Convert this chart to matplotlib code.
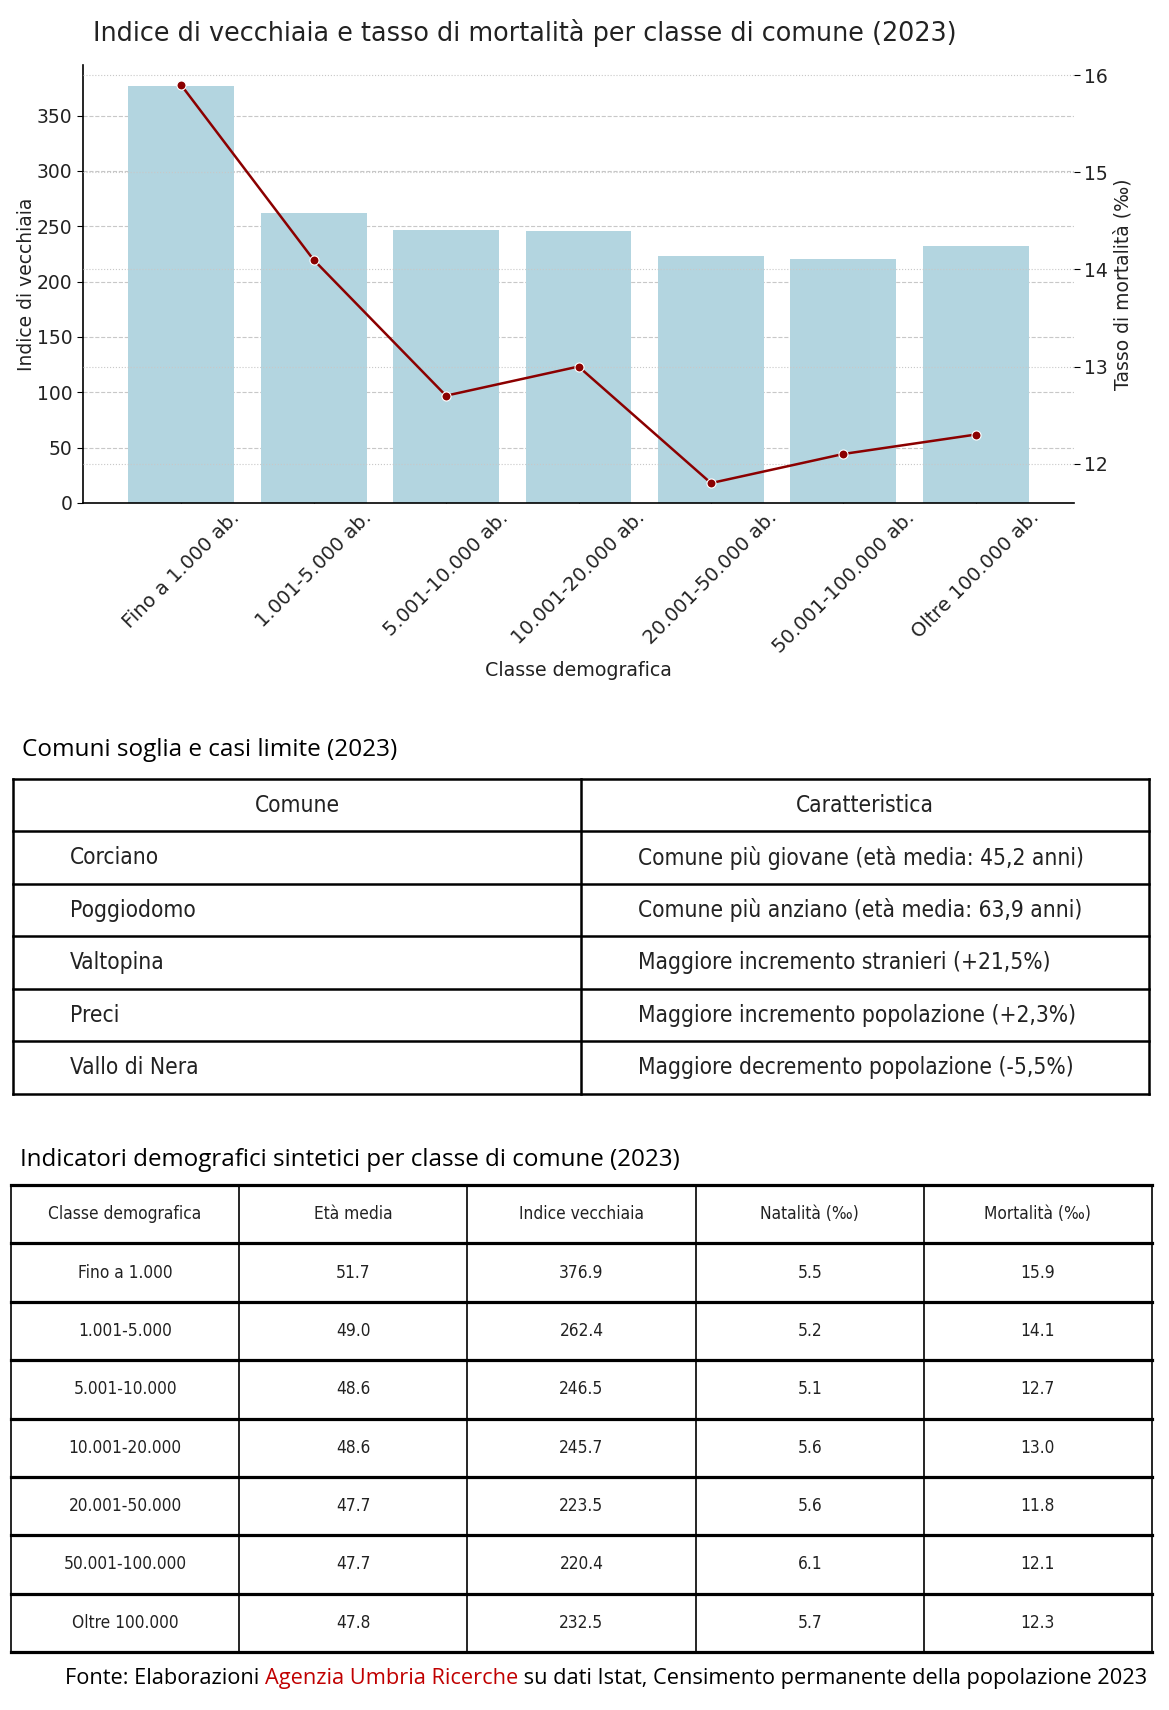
import matplotlib
matplotlib.use("Agg")
import matplotlib.pyplot as plt
from matplotlib import font_manager
import numpy as np

# chart data
classi = ["Fino a 1.000 ab.", "1.001-5.000 ab.", "5.001-10.000 ab.", "10.001-20.000 ab.",
          "20.001-50.000 ab.", "50.001-100.000 ab.", "Oltre 100.000 ab."]
indice_vecchiaia = [376.9, 262.4, 246.5, 245.7, 223.5, 220.4, 232.5]
mortalita = [15.9, 14.1, 12.7, 13.0, 11.8, 12.1, 12.3]

# table 1
comuni = ["Corciano", "Poggiodomo", "Valtopina", "Preci", "Vallo di Nera"]
caratteristiche = ["Comune più giovane (età media: 45,2 anni)",
                   "Comune più anziano (età media: 63,9 anni)",
                   "Maggiore incremento stranieri (+21,5%)",
                   "Maggiore incremento popolazione (+2,3%)",
                   "Maggiore decremento popolazione (-5,5%)"]

# table 2
classi_brevi = ["Fino a 1.000", "1.001-5.000", "5.001-10.000", "10.001-20.000",
                "20.001-50.000", "50.001-100.000", "Oltre 100.000"]
eta_media = ["51.7", "49.0", "48.6", "48.6", "47.7", "47.7", "47.8"]
indice_txt = ["376.9", "262.4", "246.5", "245.7", "223.5", "220.4", "232.5"]
natalita = ["5.5", "5.2", "5.1", "5.6", "5.6", "6.1", "5.7"]
mortalita_txt = ["15.9", "14.1", "12.7", "13.0", "11.8", "12.1", "12.3"]
intestazioni = ["Classe demografica", "Età media", "Indice vecchiaia", "Natalità (‰)", "Mortalità (‰)"]

fonte = [("Fonte: Elaborazioni ", "black"), ("Agenzia Umbria Ricerche", "#c00000"),
         (" su dati Istat, Censimento permanente della popolazione 2023", "black")]

W, H = 1169, 1710
fig = plt.figure(figsize=(W / 100, H / 100), dpi=100)

# pick a narrow face for the table cells, if one is installed
fonts = font_manager.fontManager.ttflist
names = {f.name for f in fonts}
if any(f.name == "DejaVu Sans" and f.stretch == "condensed" for f in fonts):
    NARROW = dict(family="DejaVu Sans", fontstretch="condensed")
    scale = 1.0
elif "Roboto Condensed" in names:
    NARROW = dict(family="Roboto Condensed")
    scale = 1.0
elif "Liberation Sans Narrow" in names:
    NARROW = dict(family="Liberation Sans Narrow")
    scale = 1.0
else:
    NARROW = dict(family="DejaVu Sans")
    scale = 0.86
HEAD = ["Open Sans", "DejaVu Sans"]
TXT = "#222222"


def box(left, top, right, bottom):
    return [left / W, 1 - bottom / H, (right - left) / W, (bottom - top) / H]


# ---- chart ----
ax = fig.add_axes(box(83, 65, 1074, 503))
x = np.arange(len(classi))
ax.bar(x, indice_vecchiaia, width=0.8, color="#b3d5e0", zorder=2)
ax.set_xticks(x)
ax.set_xticklabels(classi, rotation=45, ha="center", fontsize=14, color=TXT)
ax.tick_params(axis="x", direction="in", length=5)
ax.tick_params(axis="y", labelsize=13.5, labelcolor=TXT, length=4)
ax.set_yticks(range(0, 351, 50))
ax.grid(axis="y", linestyle="--", color="#c8c8c8", linewidth=0.8, zorder=0)
ax.set_axisbelow(True)
ax.set_ylabel("Indice di vecchiaia", fontsize=13.5, color=TXT, labelpad=1)
ax.set_xlabel("Classe demografica", fontsize=13.7, color=TXT, labelpad=3)
for s in ["top", "right"]:
    ax.spines[s].set_visible(False)
ax.spines["left"].set_linewidth(1.2)
ax.spines["bottom"].set_linewidth(1.2)

ax2 = ax.twinx()
ax2.plot(x, mortalita, color="#8b0000", linewidth=1.8, marker="o", markersize=6.5,
         markeredgecolor="white", markeredgewidth=0.8, zorder=3)
ax2.set_yticks([12, 13, 14, 15, 16])
ax2.tick_params(axis="y", labelsize=13.5, labelcolor=TXT, length=4)
ax2.grid(axis="y", linestyle=":", color="#c8c8c8", linewidth=0.8)
ax2.set_ylabel("Tasso di mortalità (‰)", fontsize=13.5, color=TXT)
for s in ["top", "right", "left", "bottom"]:
    ax2.spines[s].set_visible(False)

fig.text(525 / W, 1 - 33 / H, "Indice di vecchiaia e tasso di mortalità per classe di comune (2023)",
         ha="center", va="center", fontsize=18.4, color=TXT)

# ---- table 1 ----
fig.text(22 / W, 1 - 750 / H, "Comuni soglia e casi limite (2023)", ha="left", va="center",
         fontsize=17.5, family=HEAD, color="black")
t1 = fig.add_axes(box(13, 779, 1149, 1094))
t1.set_xlim(0, 2)
t1.set_ylim(len(comuni) + 1, 0)
t1.axis("off")
for r in range(len(comuni) + 2):
    t1.axhline(r, color="black", linewidth=1.8, clip_on=False)
for c in range(3):
    t1.axvline(c, color="black", linewidth=1.8, clip_on=False)
fs1 = 16.3 * scale
for c, h in enumerate(["Comune", "Caratteristica"]):
    t1.text(c + 0.5, 0.5, h, ha="center", va="center", fontsize=fs1, color=TXT, **NARROW)
for r, (cm, car) in enumerate(zip(comuni, caratteristiche), start=1):
    t1.text(0.1, r + 0.5, cm, ha="left", va="center", fontsize=fs1, color=TXT, **NARROW)
    t1.text(1.1, r + 0.5, car, ha="left", va="center", fontsize=fs1, color=TXT, **NARROW)

# ---- table 2 ----
fig.text(20 / W, 1 - 1160 / H, "Indicatori demografici sintetici per classe di comune (2023)",
         ha="left", va="center", fontsize=17.4, family=HEAD, color="black")
t2 = fig.add_axes(box(11, 1185, 1152, 1652))
cols = [classi_brevi, eta_media, indice_txt, natalita, mortalita_txt]
t2.set_xlim(0, len(cols))
t2.set_ylim(len(classi_brevi) + 1, 0)
t2.axis("off")
for r in range(len(classi_brevi) + 2):
    t2.axhline(r, color="black", linewidth=2.3, clip_on=False)
for c in range(len(cols) + 1):
    t2.axvline(c, color="black", linewidth=1.2, clip_on=False)
fs2 = 12.4 * scale
for c, h in enumerate(intestazioni):
    t2.text(c + 0.5, 0.5, h, ha="center", va="center", fontsize=fs2, color=TXT, **NARROW)
for c, col in enumerate(cols):
    for r, v in enumerate(col, start=1):
        t2.text(c + 0.5, r + 0.5, v, ha="center", va="center", fontsize=fs2, color=TXT, **NARROW)

# ---- source line, three coloured pieces side by side ----
renderer = fig.canvas.get_renderer()
xpos = 65 / W
for txt, col in fonte:
    t = fig.text(xpos, 1 - 1678 / H, txt, ha="left", va="center", fontsize=15.7,
                 family=HEAD, color=col)
    xpos = t.get_window_extent(renderer).x1 / W

fig.savefig("out.png", dpi=100)
